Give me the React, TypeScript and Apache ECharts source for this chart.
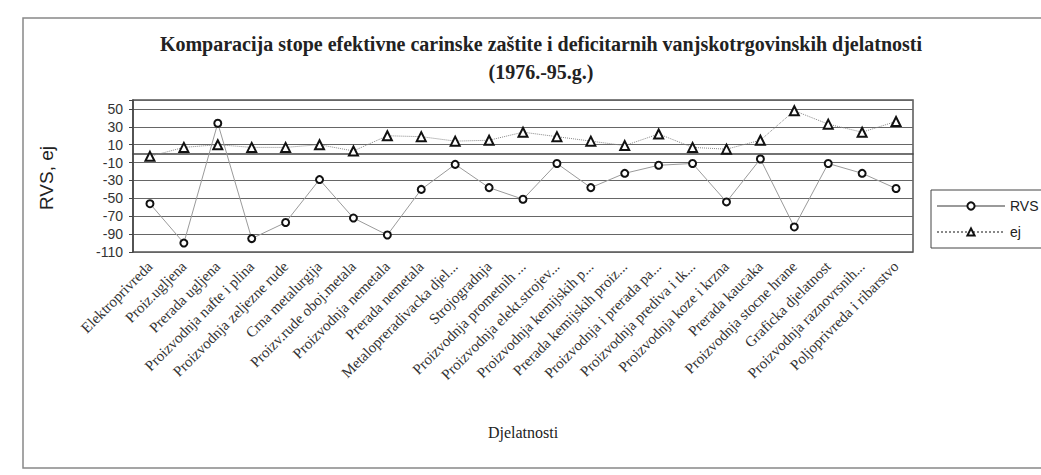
import React, { useEffect, useRef } from "react";
import * as echarts from "echarts";

const categories = [
  "Elektroprivreda",
  "Proiz.ugljena",
  "Prerada ugljena",
  "Proizvodnja nafte i plina",
  "Proizvodnja zeljezne rude",
  "Crna metalurgija",
  "Proizv.rude oboj.metala",
  "Proizvodnja nemetala",
  "Prerada nemetala",
  "Metalopreradivacka djel...",
  "Strojogradnja",
  "Proizvodnja prometnih ...",
  "Proizvodnja elekt.strojev...",
  "Proizvodnja kemijskih p...",
  "Prerada kemijskih proiz...",
  "Proizvodnja i prerada pa...",
  "Proizvodnja prediva i tk...",
  "Proizvodnja koze i krzna",
  "Prerada kaucaka",
  "Proizvodnja stocne hrane",
  "Graficka djelatnost",
  "Proizvodnja raznovrsnih...",
  "Poljoprivreda i ribarstvo",
];

const rvsValues = [-56, -100, 34, -95, -77, -29, -72, -91, -40, -12, -38, -51, -11, -38, -22, -13, -11, -54, -6, -82, -11, -22, -39];
const ejValues = [-3, 7, 10, 7, 7, 10, 3, 20, 19, 14, 15, 24, 19, 14, 9, 22, 7, 5, 15, 48, 33, 24, 36];

const yMin = -110;
const yMax = 60;
const yInterval = 20;

const titleLine1 = "Komparacija stope efektivne carinske zaštite i deficitarnih vanjskotrgovinskih djelatnosti";
const titleLine2 = "(1976.-95.g.)";
const yName = "RVS, ej";
const xName = "Djelatnosti";

const SERIF = '"Liberation Serif", "DejaVu Serif", "Times New Roman", serif';
const SANS = '"Liberation Sans", Arial, "DejaVu Sans", sans-serif';

export default function App() {
  const ref = useRef<HTMLDivElement>(null);
  useEffect(() => {
    if (!ref.current) return;
    const chart = echarts.init(ref.current, undefined, { renderer: "svg" });
    chart.setOption({
      animation: false,
      backgroundColor: "#ffffff",
      grid: {
        left: 133,
        right: 128,
        top: 100,
        bottom: 223,
        show: true,
        borderColor: "#555",
        borderWidth: 1.5,
        backgroundColor: "#ffffff",
      },
      legend: {
        data: ["RVS", "ej"],
        orient: "vertical",
        left: 931,
        top: 190,
        itemWidth: 68,
        itemHeight: 9,
        itemGap: 12,
        itemTextGap: 5,
        padding: [9, 4, 9, 5],
        borderColor: "#444",
        borderWidth: 1,
        textStyle: { fontFamily: SANS, fontSize: 14, color: "#222" },
      },
      xAxis: {
        type: "category",
        data: categories,
        boundaryGap: true,
        axisLine: { show: true, lineStyle: { color: "#444", width: 1.5 } },
        axisTick: { show: false },
        axisLabel: {
          interval: 0,
          rotate: 45,
          margin: 12,
          fontFamily: SERIF,
          fontSize: 15,
          color: "#333",
        },
      },
      yAxis: {
        type: "value",
        min: yMin,
        max: yMax,
        interval: yInterval,
        axisLine: { show: true, lineStyle: { color: "#444", width: 1.5 } },
        axisTick: { show: true, length: 4, lineStyle: { color: "#444" } },
        axisLabel: {
          fontFamily: SANS,
          fontSize: 14,
          color: "#333",
          margin: 10,
          formatter: (v: number) => (v === yMax ? "" : String(v)),
        },
        splitLine: { show: true, lineStyle: { color: "#666", width: 1 } },
      },
      series: [
        {
          name: "RVS",
          type: "line",
          data: rvsValues,
          symbol: "circle",
          symbolSize: 7,
          lineStyle: { color: "#9a9a9a", width: 1, type: "solid" },
          itemStyle: { color: "#ffffff", borderColor: "#111", borderWidth: 2 },
          z: 3,
        },
        {
          name: "ej",
          type: "line",
          data: ejValues,
          symbol: "triangle",
          symbolSize: 9,
          lineStyle: { color: "#888", width: 1, type: "dotted" },
          itemStyle: { color: "#ffffff", borderColor: "#111", borderWidth: 2 },
          z: 3,
        },
      ],
      graphic: [
        {
          type: "rect",
          shape: { x: 23, y: 18, width: 1100, height: 450 },
          style: { fill: "none", stroke: "#888", lineWidth: 1.5 },
          silent: true,
          z: -10,
        },
        {
          type: "text",
          x: 541,
          y: 44,
          style: {
            text: titleLine1,
            font: `bold 20px ${SERIF}`,
            fill: "#222",
            textAlign: "center",
            textVerticalAlign: "middle",
          },
        },
        {
          type: "text",
          x: 541,
          y: 72,
          style: {
            text: titleLine2,
            font: `bold 20px ${SERIF}`,
            fill: "#222",
            textAlign: "center",
            textVerticalAlign: "middle",
          },
        },
        {
          type: "text",
          x: 46,
          y: 178,
          rotation: Math.PI / 2,
          style: {
            text: yName,
            font: `19px ${SANS}`,
            fill: "#222",
            textAlign: "center",
            textVerticalAlign: "middle",
          },
        },
        {
          type: "text",
          x: 523,
          y: 432,
          style: {
            text: xName,
            font: `16px ${SERIF}`,
            fill: "#222",
            textAlign: "center",
            textVerticalAlign: "middle",
          },
        },
      ],
    });
    return () => chart.dispose();
  }, []);
  return (
    <div
      ref={ref}
      style={{ position: "fixed", left: 0, top: 0, width: 1041, height: 475 }}
    />
  );
}
